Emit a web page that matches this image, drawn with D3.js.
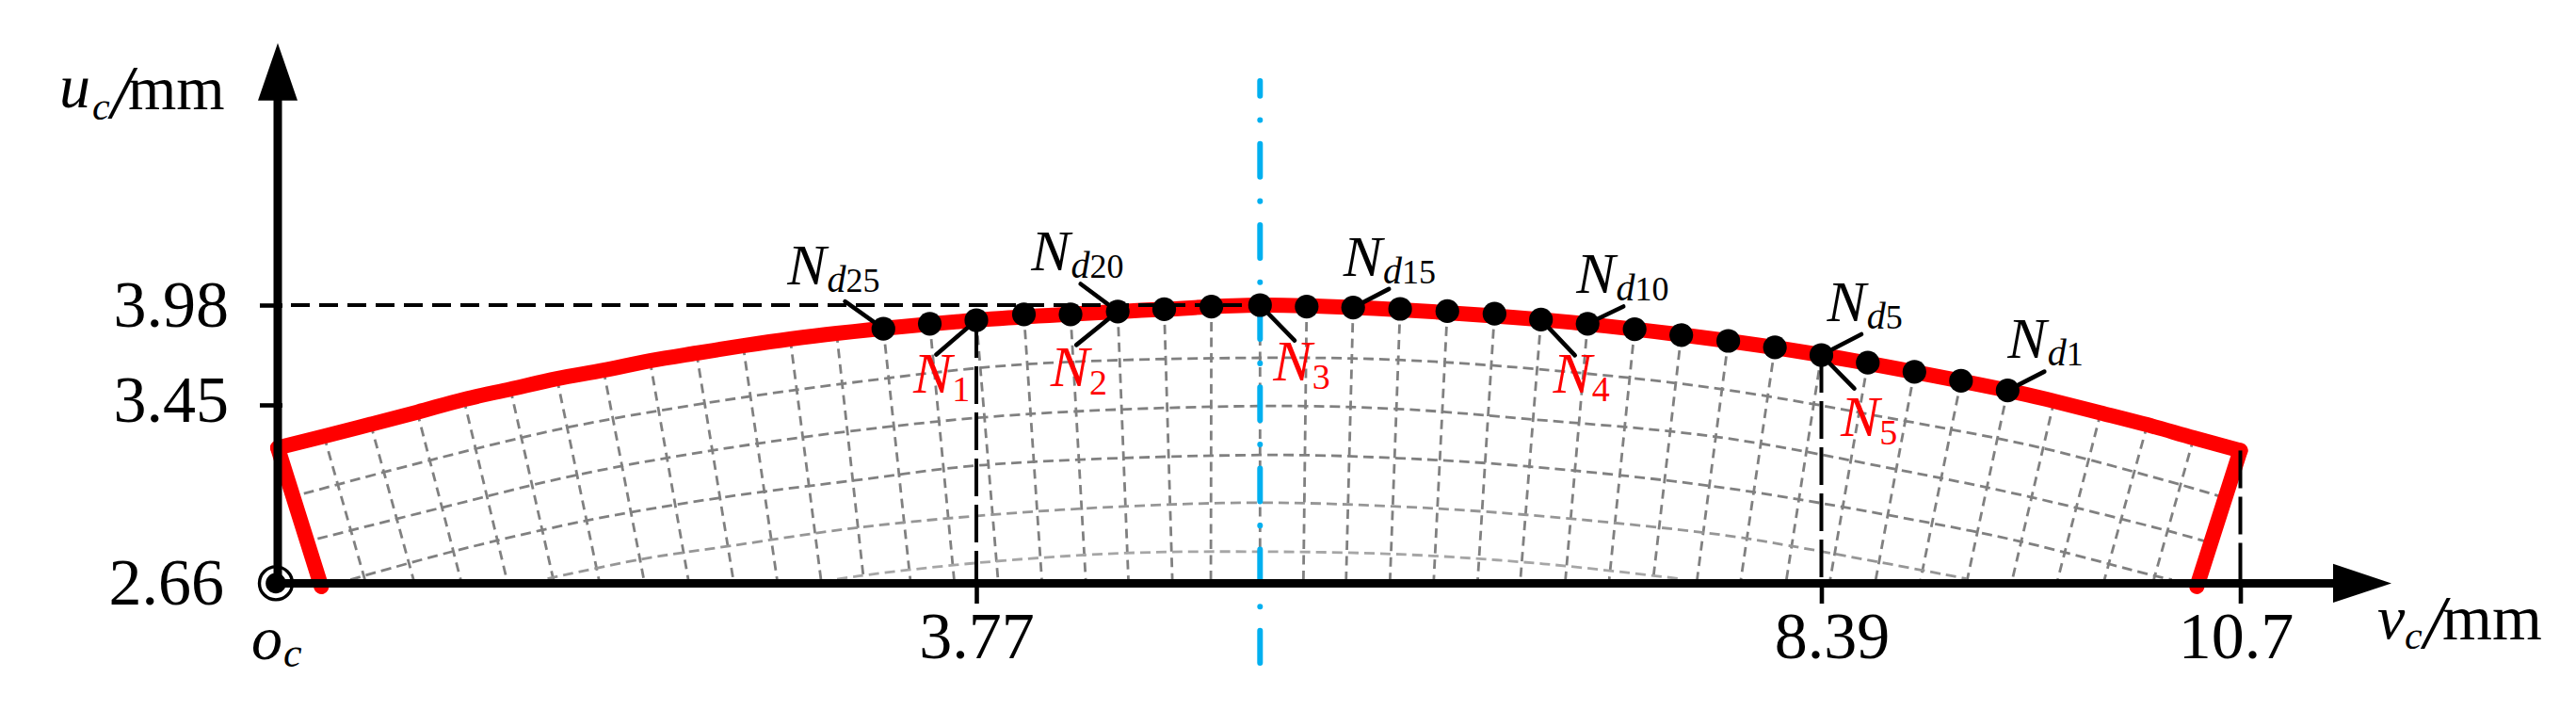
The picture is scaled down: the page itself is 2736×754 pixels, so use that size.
<!DOCTYPE html>
<html>
<head>
<meta charset="utf-8">
<style>
	html, body { margin: 0; padding: 0; background: #fff; }
	svg { display: block; }
	text { font-family: "Liberation Serif", serif; }
</style>
<script src="https://cdn.jsdelivr.net/npm/d3@7"></script>
</head>
<body>
<script>
'use strict';

// all values in mm
var vTicks = [3.77, 8.39, 10.7];
var uTicks = [3.98, 3.45, 2.66];

// nodes N_d25 ... N_d1, left to right
var nodeV = [3.269, 3.519, 3.77, 4.03, 4.285, 4.543, 4.797, 5.055, 5.321, 5.576, 5.83, 6.087, 6.345,
	6.603, 6.857, 7.112, 7.369, 7.624, 7.881, 8.136, 8.39, 8.646, 8.903, 9.16, 9.417];
var nodeU = [3.854, 3.881, 3.90, 3.931, 3.931, 3.946, 3.958, 3.972, 3.98, 3.972, 3.967, 3.96, 3.948,
	3.934, 3.903, 3.881, 3.852, 3.821, 3.79, 3.756, 3.715, 3.674, 3.626, 3.578, 3.527];

// outer arc left and right of the nodes
var arcLeftV = [0.255, 0.506, 0.757, 1.008, 1.259, 1.51, 1.761, 2.011, 2.262, 2.513, 2.767, 3.017];
var arcLeftU = [3.311, 3.364, 3.418, 3.479, 3.534, 3.589, 3.634, 3.684, 3.725, 3.764, 3.80, 3.83];
var arcRightV = [9.673, 9.93, 10.187, 10.443];
var arcRightU = [3.47, 3.415, 3.362, 3.304];

// red outline: corner, left arc, a few points over the nodes, right arc, corner
var outlineMidV = [3.77, 4.797, 5.321, 5.83, 6.857, 7.881, 8.39, 9.417];
var outlineMidU = [3.90, 3.958, 3.98, 3.967, 3.903, 3.79, 3.715, 3.527];
var cornerLeftBottom = [0.24, 2.645];
var cornerLeftTop = [0.005, 3.26];
var cornerRightTop = [10.7, 3.248];
var cornerRightBottom = [10.46, 2.645];

// foot of the radial mesh lines on the v axis
var spokeFootV = [0.48, 0.742, 0.996, 1.244, 1.495, 1.74, 1.982, 2.221, 2.463, 2.699, 2.935,
	3.165, 3.416, 3.652, 3.89, 4.129, 4.369, 4.602, 4.842, 5.052, 5.321,
	5.558, 5.791, 6.031, 6.27, 6.51, 6.743, 6.989, 7.228, 7.468, 7.708,
	7.947, 8.196, 8.435, 8.686, 8.933, 9.19, 9.438, 9.688, 9.945, 10.217];

// inner mesh arcs, outermost first
var meshArc1V = [0.146, 0.84, 1.578, 2.315, 3.136, 4.025, 5.321, 6.076, 6.839, 7.821, 8.858, 9.612, 10.368, 10.579];
var meshArc1U = [3.057, 3.208, 3.352, 3.46, 3.573, 3.665, 3.70, 3.689, 3.64, 3.537, 3.378, 3.258, 3.097, 3.047];
var meshArc2V = [0.22, 0.899, 1.607, 2.345, 3.136, 4.025, 5.321, 6.076, 6.779, 7.821, 8.782, 9.537, 10.277, 10.503];
var meshArc2U = [2.857, 2.997, 3.138, 3.248, 3.338, 3.408, 3.445, 3.432, 3.388, 3.308, 3.168, 3.043, 2.897, 2.847];
var meshArc3V = [0.397, 0.958, 1.666, 2.374, 3.136, 3.815, 5.321, 6.076, 6.779, 7.821, 8.722, 9.477, 10.232, 10.323];
var meshArc3U = [2.676, 2.803, 2.937, 3.037, 3.118, 3.184, 3.228, 3.214, 3.178, 3.087, 2.967, 2.847, 2.692, 2.676];
var meshArc4V = [1.459, 1.961, 2.448, 3.136, 3.845, 4.594, 5.321, 6.046, 6.779, 7.821, 8.21, 8.692, 9.19];
var meshArc4U = [2.68, 2.766, 2.826, 2.907, 2.963, 3.001, 3.017, 3.001, 2.963, 2.877, 2.827, 2.756, 2.68];
var meshArc5V = [2.935, 3.136, 3.77, 4.563, 5.321, 6.12, 6.869, 7.617];
var meshArc5U = [2.666, 2.692, 2.75, 2.793, 2.8, 2.787, 2.746, 2.68];

var centreV = 5.321;
var centreTopU = 5.17;
var centreBottomU = 2.307;

var nodeLabelNames = ['25', '20', '15', '10', '5', '1'];
var nodeLabelIndex = [0, 5, 10, 15, 20, 24];
var pickLabelNames = ['1', '2', '3', '4', '5'];
var pickLabelIndex = [2, 5, 8, 14, 20];

var W = 2736, H = 754;

var x = d3.scaleLinear().domain([0, 3.77, 8.39, 10.7]).range([294, 1037, 1934.5, 2379.5]);
var y = d3.scaleLinear().domain([2.66, 3.45, 3.98]).range([619.4, 430, 324]);

var svg = d3.select('body').append('svg').attr('width', W).attr('height', H);
var line = d3.line().x(function (d) { return x(d[0]); }).y(function (d) { return y(d[1]); });
var smooth = d3.line().x(function (d) { return x(d[0]); }).y(function (d) { return y(d[1]); }).curve(d3.curveCatmullRom);

var xAxisY = y(2.66), yAxisX = x(0) + 1;

// mesh
var nodes = nodeV.map(function (v, i) { return [v, nodeU[i]]; });
var spokeTops = d3.zip(arcLeftV, arcLeftU).concat(nodes, d3.zip(arcRightV, arcRightU));
svg.append('g').selectAll('path').data(spokeTops).join('path')
	.attr('d', function (d, i) { return line([d, [spokeFootV[i], 2.66]]); })
	.attr('fill', 'none').attr('stroke', '#808080').attr('stroke-width', 2.8).attr('stroke-dasharray', '10 6.5');

var meshArcs = [
	{ v: meshArc1V, u: meshArc1U, color: '#808080' },
	{ v: meshArc2V, u: meshArc2U, color: '#808080' },
	{ v: meshArc3V, u: meshArc3U, color: '#808080' },
	{ v: meshArc4V, u: meshArc4U, color: '#969696' },
	{ v: meshArc5V, u: meshArc5U, color: '#a6a6a6' }
];
svg.append('g').selectAll('path').data(meshArcs).join('path')
	.attr('d', function (d) { return smooth(d3.zip(d.v, d.u)); })
	.attr('fill', 'none').attr('stroke', function (d) { return d.color; })
	.attr('stroke-width', 2.8).attr('stroke-dasharray', '11 6');

// red outline
var outlineTop = [cornerLeftTop].concat(d3.zip(arcLeftV, arcLeftU), d3.zip(outlineMidV, outlineMidU),
	d3.zip(arcRightV, arcRightU), [cornerRightTop]);
var outlineGroup = svg.append('g').attr('fill', 'none').attr('stroke', '#ff0000')
	.attr('stroke-width', 16).attr('stroke-linejoin', 'round').attr('stroke-linecap', 'round');
outlineGroup.append('path').attr('d', smooth(outlineTop));
outlineGroup.append('path').attr('d', line([cornerLeftBottom, cornerLeftTop]));
outlineGroup.append('path').attr('d', line([cornerRightTop, cornerRightBottom]));

// dashed guides
var guides = svg.append('g').attr('fill', 'none').attr('stroke', '#000').attr('stroke-width', 4);
guides.append('path').attr('d', 'M' + (yAxisX + 14) + ',' + y(3.98) + 'H' + x(centreV)).attr('stroke-dasharray', '20 10');
guides.append('path').attr('d', line([[3.77, nodeU[2]], [3.77, 2.66]])).attr('stroke-dasharray', '40 9');
guides.append('path').attr('d', line([[8.39, nodeU[20]], [8.39, 2.66]])).attr('stroke-dasharray', '40 9');
guides.append('path').attr('d', line([cornerRightTop, [10.7, 2.66]])).attr('stroke-dasharray', '40 9');

// centre line
svg.append('path').attr('d', line([[centreV, centreTopU], [centreV, centreBottomU]]))
	.attr('fill', 'none').attr('stroke', '#00b0f0').attr('stroke-width', 6)
	.attr('stroke-linecap', 'round').attr('stroke-dasharray', '35 25.7 0.1 25.34').attr('stroke-dashoffset', 19.3);

// nodes
svg.append('g').selectAll('circle').data(nodes).join('circle')
	.attr('cx', function (d) { return x(d[0]); })
	.attr('cy', function (d) { return y(d[1]); })
	.attr('r', 12.6).attr('fill', '#000');

// axes
var xAxis = d3.axisBottom(x).tickValues(vTicks).tickSize(21.6).tickSizeOuter(0).tickPadding(6)
	.tickFormat(function (d) { return String(d); });
var xAxisG = svg.append('g').attr('transform', 'translate(0,' + xAxisY + ')').call(xAxis);
xAxisG.select('.domain').remove();
xAxisG.selectAll('.tick line').attr('stroke', '#000').attr('stroke-width', 4.6);
xAxisG.selectAll('.tick text').attr('font-size', 70).attr('fill', '#000').attr('font-family', 'Liberation Serif')
	.attr('dy', null).attr('y', 80)
	.attr('dx', function (d) { return d === 8.39 ? 11 : d === 10.7 ? -5 : 0; });

var yAxis = d3.axisLeft(y).tickValues(uTicks).tickSize(18).tickSizeOuter(0).tickPadding(34)
	.tickFormat(d3.format('.2f'));
var yAxisG = svg.append('g').attr('transform', 'translate(' + yAxisX + ',0)').call(yAxis);
yAxisG.select('.domain').remove();
yAxisG.selectAll('.tick line').attr('stroke', '#000').attr('stroke-width', 4.6).attr('x2', -19).attr('x1', 5)
	.attr('display', function (d) { return d === 2.66 ? 'none' : null; });
yAxisG.selectAll('.tick text').attr('font-size', 70).attr('fill', '#000').attr('font-family', 'Liberation Serif')
	.attr('dy', null)
	.attr('y', function (d) { return d === 3.45 ? 17.7 : 22.3; })
	.attr('dx', function (d) { return d === 2.66 ? -5 : 0; });

var axisLines = svg.append('g').attr('stroke', '#000').attr('stroke-width', 9);
axisLines.append('line').attr('x1', yAxisX).attr('x2', yAxisX).attr('y1', xAxisY).attr('y2', 100);
axisLines.append('line').attr('x1', yAxisX).attr('x2', 2485).attr('y1', xAxisY).attr('y2', xAxisY);
svg.append('path').attr('d', 'M' + yAxisX + ',45.7L' + (yAxisX + 21) + ',106.8H' + (yAxisX - 21) + 'Z');
svg.append('path').attr('d', 'M2540,' + xAxisY + 'L2478,' + (xAxisY + 20.7) + 'V' + (xAxisY - 20.7) + 'Z');

// origin mark
svg.append('circle').attr('cx', yAxisX - 2).attr('cy', xAxisY).attr('r', 17.5).attr('fill', 'none')
	.attr('stroke', '#000').attr('stroke-width', 3.4);
svg.append('circle').attr('cx', yAxisX - 2).attr('cy', xAxisY).attr('r', 10.8).attr('fill', '#000');

// text made of an italic main letter and lowered subscripts
function addSubText(px, py, color, parts) {
	var t = svg.append('text').attr('x', px).attr('y', py).attr('fill', color);
	parts.forEach(function (p) {
		var s = t.append('tspan').text(p.text).attr('font-size', p.size);
		if (p.italic) s.attr('font-style', 'italic');
		if (p.x !== undefined) s.attr('x', p.x);
		if (p.y !== undefined) s.attr('y', p.y);
		if (p.dx) s.attr('dx', p.dx);
		if (p.dy) s.attr('dy', p.dy);
	});
}

addSubText(63, 114, '#000', [
	{ text: 'u', size: 66, italic: true },
	{ text: 'c', size: 42, italic: true, x: 98, y: 126.7 },
	{ text: '/', size: 80, italic: true, x: 118, y: 125 },
	{ text: 'mm', size: 66, x: 136, y: 116 }
]);
addSubText(2525, 678, '#000', [
	{ text: 'v', size: 66, italic: true },
	{ text: 'c', size: 42, italic: true, x: 2554, y: 688.6 },
	{ text: '/', size: 80, italic: true, x: 2574.5, y: 688 },
	{ text: 'mm', size: 68, x: 2594, y: 679 }
]);
addSubText(267, 699.6, '#000', [
	{ text: 'o', size: 66, italic: true },
	{ text: 'c', size: 44, italic: true, x: 301, y: 708 }
]);

// node callouts, offsets from the node in pixels
var nodeLeaderDx = [-40.7, -39.5, 38, 38, 42.5, 39];
var nodeLeaderDy = [-29, -29.3, -19.7, -18.3, -22, -20];
var nodeTextDx = [-102, -92, -10.5, -12, 6, 0];
var nodeTextDy = [-47.6, -43.8, -34, -33, -36.5, -34.5];
var pickLeaderDx = [-42.5, -44, 36.7, 36, 35];
var pickLeaderDy = [36.5, 35.6, 37.6, 38, 35.6];
var pickTextDx = [-67, -71.5, 14, 12.8, 20.5];
var pickTextDy = [77.4, 79, 80, 78, 85.6];

var leaders = svg.append('g').attr('stroke', '#000').attr('stroke-width', 4.6).attr('stroke-linecap', 'round');
function addLeader(idx, dx, dy) {
	leaders.append('line')
		.attr('x1', x(nodeV[idx])).attr('y1', y(nodeU[idx]))
		.attr('x2', x(nodeV[idx]) + dx).attr('y2', y(nodeU[idx]) + dy);
}

nodeLabelIndex.forEach(function (idx, i) {
	addLeader(idx, nodeLeaderDx[i], nodeLeaderDy[i]);
	addSubText(x(nodeV[idx]) + nodeTextDx[i], y(nodeU[idx]) + nodeTextDy[i], '#000', [
		{ text: 'N', size: 62, italic: true },
		{ text: 'd', size: 40, italic: true, dy: 8.3, dx: 1 },
		{ text: nodeLabelNames[i], size: 36 }
	]);
});

pickLabelIndex.forEach(function (idx, i) {
	addLeader(idx, pickLeaderDx[i], pickLeaderDy[i]);
	addSubText(x(nodeV[idx]) + pickTextDx[i], y(nodeU[idx]) + pickTextDy[i], '#ff0000', [
		{ text: 'N', size: 62, italic: true },
		{ text: pickLabelNames[i], size: 38, dy: 9 }
	]);
});
</script>
</body>
</html>
